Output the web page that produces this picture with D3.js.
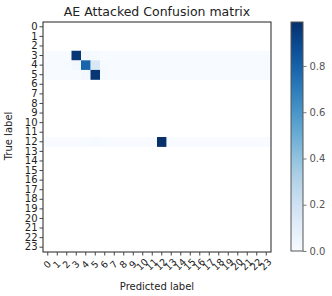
<!DOCTYPE html>
<html>
<head>
    <title>AE Attacked Confusion matrix</title>
    <script src="https://cdnjs.cloudflare.com/ajax/libs/d3/7.8.5/d3.min.js"></script>
    <style>
        body {
            margin: 0;
            background-color: white;
            font-family: "DejaVu Sans", sans-serif;
        }

        .axis text {
            font-family: "DejaVu Sans", sans-serif;
        }
    </style>
</head>

<body>
    <div id="chart"></div>

    <script>
        // class labels 0..23
        const labels = ['0', '1', '2', '3', '4', '5', '6', '7', '8', '9', '10', '11',
            '12', '13', '14', '15', '16', '17', '18', '19', '20', '21', '22', '23'];

        // normalised rows that have samples; every other row is empty (NaN -> white)
        const row3 = [0, 0, 0, 0.97, 0.02, 0.01, 0, 0, 0, 0, 0, 0, 0, 0, 0, 0, 0, 0, 0, 0, 0, 0, 0, 0];
        const row4 = [0, 0, 0.01, 0.03, 0.79, 0.15, 0.01, 0, 0, 0, 0, 0, 0, 0, 0, 0, 0, 0, 0, 0, 0, 0, 0, 0];
        const row5 = [0, 0, 0, 0, 0.02, 0.97, 0.01, 0, 0, 0, 0, 0, 0, 0, 0, 0, 0, 0, 0, 0, 0, 0, 0, 0];
        const row12 = [0, 0, 0, 0, 0, 0.01, 0, 0, 0, 0, 0, 0, 0.99, 0, 0, 0, 0, 0, 0, 0, 0, 0, 0, 0];
        const filledRows = { 3: row3, 4: row4, 5: row5, 12: row12 };

        const colorTicks = [0, 0.2, 0.4, 0.6, 0.8];

        const width = 332, height = 296;
        const plot = { left: 43, top: 22, size: 228 };
        const bar = { left: 291, width: 12, top: 22, height: 229 };

        const svg = d3.select("#chart").append("svg")
            .attr("width", width)
            .attr("height", height);

        const cells = [];
        labels.forEach((r, i) => {
            const row = filledRows[i];
            labels.forEach((c, j) => {
                cells.push({ row: r, col: c, value: row ? row[j] : null });
            });
        });

        const maxVal = d3.max(cells, d => d.value);

        const x = d3.scaleBand().domain(labels).range([plot.left, plot.left + plot.size]);
        const y = d3.scaleBand().domain(labels).range([plot.top, plot.top + plot.size + 2]);
        const color = d3.scaleSequential(d3.interpolateBlues).domain([0, maxVal]);

        svg.selectAll(".cell")
            .data(cells.filter(d => d.value !== null))
            .enter().append("rect")
            .attr("class", "cell")
            .attr("x", d => x(d.col))
            .attr("y", d => y(d.row))
            .attr("width", x.bandwidth() + 0.3)
            .attr("height", y.bandwidth() + 0.3)
            .attr("fill", d => color(d.value));

        // frame
        svg.append("rect")
            .attr("x", plot.left)
            .attr("y", plot.top)
            .attr("width", plot.size)
            .attr("height", plot.size + 2)
            .attr("fill", "none")
            .attr("stroke", "#222")
            .attr("stroke-width", 1);

        const yAxis = svg.append("g")
            .attr("class", "axis")
            .attr("transform", `translate(${plot.left},0)`)
            .call(d3.axisLeft(y).tickSize(3.5).tickPadding(2));
        yAxis.select(".domain").remove();
        yAxis.selectAll("text").attr("font-size", 10).attr("fill", "#222");
        yAxis.selectAll("line").attr("stroke", "#444");

        const xAxis = svg.append("g")
            .attr("class", "axis")
            .attr("transform", `translate(0,${plot.top + plot.size + 2})`)
            .call(d3.axisBottom(x).tickSize(3.5).tickPadding(2));
        xAxis.select(".domain").remove();
        xAxis.selectAll("line").attr("stroke", "#444");
        xAxis.selectAll("text")
            .attr("font-size", 9.5)
            .attr("fill", "#222")
            .attr("text-anchor", "middle")
            .attr("dy", null)
            .attr("y", 0)
            .attr("transform", "translate(0,13) rotate(-45)")
            .attr("dominant-baseline", "middle");

        svg.append("text")
            .attr("x", plot.left + plot.size / 2)
            .attr("y", 16)
            .attr("text-anchor", "middle")
            .attr("font-size", 12.5)
            .attr("fill", "#222")
            .text("AE Attacked Confusion matrix");

        svg.append("text")
            .attr("x", plot.left + plot.size / 2)
            .attr("y", 290)
            .attr("text-anchor", "middle")
            .attr("font-size", 10)
            .attr("fill", "#222")
            .text("Predicted label");

        svg.append("text")
            .attr("transform", `translate(12,${plot.top + plot.size / 2}) rotate(-90)`)
            .attr("text-anchor", "middle")
            .attr("font-size", 10)
            .attr("fill", "#222")
            .text("True label");

        // colorbar
        const defs = svg.append("defs");
        const grad = defs.append("linearGradient")
            .attr("id", "cbar")
            .attr("x1", "0").attr("y1", "1").attr("x2", "0").attr("y2", "0");
        d3.range(0, 1.0001, 0.1).forEach(t => {
            grad.append("stop")
                .attr("offset", t)
                .attr("stop-color", color(t * maxVal));
        });

        svg.append("rect")
            .attr("x", bar.left)
            .attr("y", bar.top)
            .attr("width", bar.width)
            .attr("height", bar.height)
            .attr("fill", "url(#cbar)")
            .attr("stroke", "#555")
            .attr("stroke-width", 1);

        const cy = d3.scaleLinear().domain([0, maxVal]).range([bar.top + bar.height, bar.top]);
        const cAxis = svg.append("g")
            .attr("class", "axis")
            .attr("transform", `translate(${bar.left + bar.width},0)`)
            .call(d3.axisRight(cy).tickValues(colorTicks).tickFormat(d3.format(".1f")).tickSize(3.5).tickPadding(3));
        cAxis.select(".domain").remove();
        cAxis.selectAll("line").attr("stroke", "#777");
        cAxis.selectAll("text").attr("font-size", 10).attr("fill", "#555");
    </script>
</body>
</html>
